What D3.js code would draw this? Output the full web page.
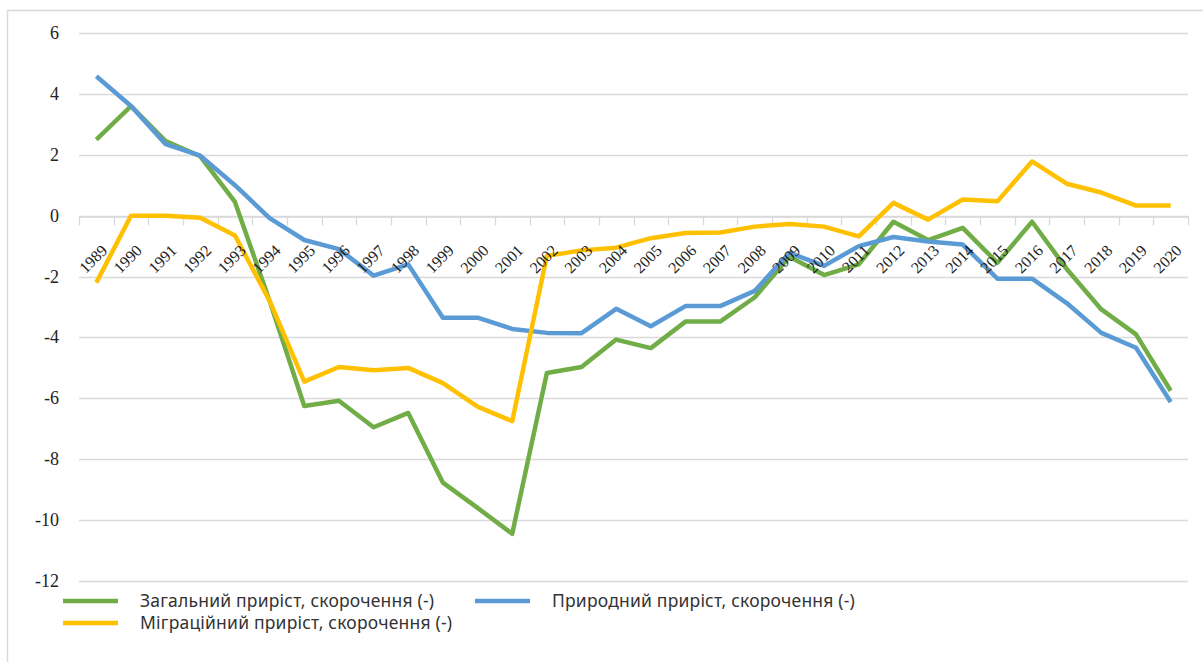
<!DOCTYPE html>
<html>
<head>
<meta charset="utf-8">
<script src="https://cdn.jsdelivr.net/npm/d3@7"></script>
<style>
  body { margin: 0; background: #fff; }
  svg { display: block; }
  .serif { font-family: "Liberation Serif", "Times New Roman", serif; }
  .sans { font-family: "Noto Sans", "Liberation Sans", sans-serif; }
</style>
</head>
<body>
<div id="viz"></div>
<script>
var years = d3.range(1989, 2021).map(String);
var yTicks = [6, 4, 2, 0, -2, -4, -6, -8, -10, -12];

// загальний приріст
var total = [2.5, 3.6, 2.45, 1.95, 0.45, -2.8, -6.25, -6.08, -6.95, -6.48,
  -8.77, -9.6, -10.45, -5.17, -4.97, -4.07, -4.35, -3.48, -3.48, -2.68,
  -1.35, -1.95, -1.6, -0.2, -0.8, -0.4, -1.55, -0.2, -1.75, -3.08,
  -3.9, -5.75];
// природний приріст
var natural = [4.58, 3.6, 2.35, 1.97, 1.0, -0.08, -0.8, -1.1, -1.97, -1.6,
  -3.35, -3.35, -3.72, -3.85, -3.86, -3.06, -3.63, -2.97, -2.97, -2.47,
  -1.22, -1.65, -1.0, -0.7, -0.85, -0.95, -2.07, -2.07, -2.87, -3.85,
  -4.34, -6.12];
// міграційний приріст
var migration = [-2.2, 0.0, 0.0, -0.07, -0.65, -2.8, -5.45, -4.97, -5.08, -5.0,
  -5.5, -6.27, -6.75, -1.32, -1.14, -1.05, -0.74, -0.57, -0.55, -0.36,
  -0.27, -0.36, -0.68, 0.42, -0.13, 0.53, 0.47, 1.78, 1.05, 0.76,
  0.33, 0.33];

var series = [
  {name: "Загальний приріст, скорочення (-)", color: "#70AD47", values: total},
  {name: "Природний приріст, скорочення (-)", color: "#5B9BD5", values: natural},
  {name: "Міграційний приріст, скорочення (-)", color: "#FFC000", values: migration}
];

var W = 1203, H = 662;
var grid = "#d9d9d9";

var svg = d3.select("#viz").append("svg")
  .attr("width", W)
  .attr("height", H);

// chart frame (only top and left edges are visible)
svg.append("path")
  .attr("d", "M7.5," + H + "V10.5H" + W)
  .style("fill", "none")
  .style("stroke", grid)
  .style("stroke-width", 1.5);

var x = d3.scaleBand().domain(years).range([79, 1188]);
var y = d3.scaleLinear().domain([-12, 6]).range([581, 33]);

// gridlines
svg.append("g").selectAll("line")
  .data(yTicks)
  .enter().append("line")
  .attr("x1", x.range()[0])
  .attr("x2", x.range()[1])
  .attr("y1", function(d){ return Math.round(y(d)) + 0.5; })
  .attr("y2", function(d){ return Math.round(y(d)) + 0.5; })
  .style("stroke", grid)
  .style("stroke-width", 1.3);

// y tick labels
svg.append("g").selectAll("text")
  .data(yTicks)
  .enter().append("text")
  .attr("class", "serif")
  .attr("x", 59)
  .attr("y", function(d){ return y(d) + 6; })
  .attr("text-anchor", "end")
  .style("font-size", "18px")
  .style("fill", "#222")
  .text(function(d){ return d; });

// category axis on the zero line
var y0 = Math.round(y(0)) + 0.5;
var xAxis = d3.axisBottom(x).tickSize(0).tickFormat("");
var ax = svg.append("g")
  .attr("transform", "translate(0," + y0 + ")")
  .call(xAxis);
ax.select(".domain").style("stroke", grid).style("stroke-width", 1.3);

var bounds = years.map(function(d){ return x(d); }).concat([x.range()[1]]);
svg.append("g").selectAll("line")
  .data(bounds)
  .enter().append("line")
  .attr("x1", function(d){ return Math.round(d) + 0.5; })
  .attr("x2", function(d){ return Math.round(d) + 0.5; })
  .attr("y1", y0)
  .attr("y2", y0 + 9)
  .style("stroke", grid)
  .style("stroke-width", 1.3);

var cx = function(d){ return x(d) + x.bandwidth() / 2; };

// lines: total first, migration on top
var line = d3.line()
  .x(function(d, i){ return cx(years[i]); })
  .y(function(d){ return y(d); });

series.forEach(function(s){
  svg.append("path")
    .datum(s.values)
    .attr("d", line)
    .style("fill", "none")
    .style("stroke", s.color)
    .style("stroke-width", 4.5)
    .style("stroke-linejoin", "round");
});

// rotated year labels, drawn over the lines
svg.append("g").selectAll("text")
  .data(years)
  .enter().append("text")
  .attr("class", "serif")
  .attr("transform", function(d){
    return "translate(" + (cx(d) + 12) + "," + (y0 + 35) + ") rotate(-45)";
  })
  .attr("text-anchor", "end")
  .style("font-size", "16px")
  .style("fill", "#222")
  .text(function(d){ return d; });

// legend
var legPos = [[63, 601], [475, 601], [63, 623]];
var leg = svg.append("g").selectAll("g")
  .data(series)
  .enter().append("g")
  .attr("transform", function(d, i){ return "translate(" + legPos[i][0] + "," + legPos[i][1] + ")"; });
leg.append("line")
  .attr("x1", 0).attr("x2", 55)
  .style("stroke", function(d){ return d.color; })
  .style("stroke-width", 4.5);
leg.append("text")
  .attr("class", "sans")
  .attr("x", 77)
  .attr("y", 6)
  .style("font-size", "17.5px")
  .style("letter-spacing", "0.2px")
  .style("fill", "#333")
  .text(function(d){ return d.name; });
</script>
</body>
</html>
